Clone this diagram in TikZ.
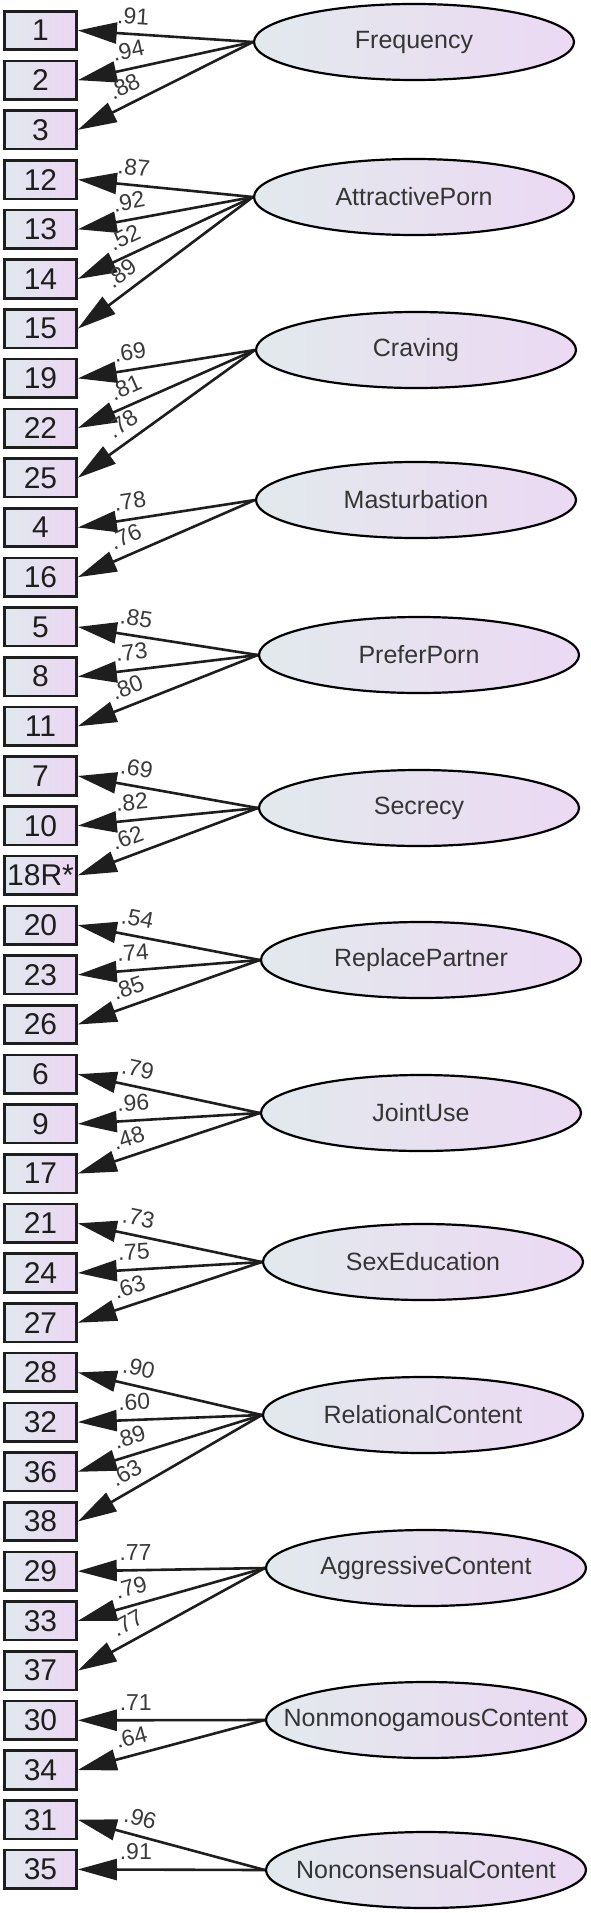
\documentclass[tikz,border=0pt]{standalone}
\usepackage{fontspec}
\setmainfont{Liberation Sans}
\usetikzlibrary{arrows.meta,shapes.geometric}
\definecolor{itemL}{HTML}{E1E8EE}
\definecolor{itemR}{HTML}{EBD7F3}
\definecolor{facL}{HTML}{E2E9ED}
\definecolor{facR}{HTML}{ECD9F3}
\definecolor{ink}{HTML}{1E1E1E}
\definecolor{lblgray}{HTML}{3A3A3A}

\begin{document}
\begin{tikzpicture}[
    x=1pt,y=-1pt,
    item/.style={draw=ink,line width=2.6pt,minimum width=72pt,minimum height=38.5pt,inner sep=0pt,
      left color=itemL,right color=itemR,text=ink,font=\fontsize{30}{30}\selectfont},
    factor/.style={ellipse,draw=black,line width=2.2pt,minimum width=320pt,minimum height=76pt,
      inner xsep=-36pt,inner ysep=0pt,
      left color=facL,right color=facR,text=ink!90,font=\fontsize{25}{25}\selectfont},
    load/.style={-{Triangle[length=39pt,width=21pt]},line width=2.6pt,ink},
    lbl/.style={pos=0.69,sloped,above=7pt,inner sep=1.5pt,text=lblgray,font=\fontsize{23}{23}\selectfont}
]
\useasboundingbox (0,0) rectangle (590,1913);

% observed items, one column on the left
\foreach \nm/\txt [count=\i from 0] in {1/1,2/2,3/3,12/12,13/13,14/14,15/15,19/19,22/22,25/25,
    4/4,16/16,5/5,8/8,11/11,7/7,10/10,18/18R*,20/20,23/23,26/26,6/6,9/9,17/17,
    21/21,24/24,27/27,28/28,32/32,36/36,38/38,29/29,33/33,37/37,30/30,34/34,31/31,35/35}
  \node[item] (q\nm) at (40.5,{30.5+49.7*\i}) {\txt};

% latent factors on the right
\node[factor] (Freq)  at (414,42)   {Frequency};
\node[factor] (Attr)  at (414,197)  {AttractivePorn};
\node[factor] (Crav)  at (416,350)  {Craving};
\node[factor] (Mast)  at (416,500)  {Masturbation};
\node[factor] (Pref)  at (419,655)  {PreferPorn};
\node[factor] (Secr)  at (419,808)  {Secrecy};
\node[factor] (Repl)  at (421,960)  {ReplacePartner};
\node[factor] (Joint) at (421,1113) {JointUse};
\node[factor] (SexEd) at (423,1262) {SexEducation};
\node[factor] (Rel)   at (423,1415) {RelationalContent};
\node[factor] (Aggr)  at (426,1568) {AggressiveContent};
\node[factor] (Nonmo) at (426,1720) {NonmonogamousContent};
\node[factor] (Nonco) at (426,1870) {NonconsensualContent};

% loadings
\draw[load] (Freq.west) -- node[lbl] {.91} (q1.east);
\draw[load] (Freq.west) -- node[lbl] {.94} (q2.east);
\draw[load] (Freq.west) -- node[lbl] {.88} (q3.east);

\draw[load] (Attr.west) -- node[lbl] {.87} (q12.east);
\draw[load] (Attr.west) -- node[lbl] {.92} (q13.east);
\draw[load] (Attr.west) -- node[lbl] {.52} (q14.east);
\draw[load] (Attr.west) -- node[lbl] {.89} (q15.east);

\draw[load] (Crav.west) -- node[lbl] {.69} (q19.east);
\draw[load] (Crav.west) -- node[lbl] {.81} (q22.east);
\draw[load] (Crav.west) -- node[lbl] {.78} (q25.east);

\draw[load] (Mast.west) -- node[lbl] {.78} (q4.east);
\draw[load] (Mast.west) -- node[lbl] {.76} (q16.east);

\draw[load] (Pref.west) -- node[lbl] {.85} (q5.east);
\draw[load] (Pref.west) -- node[lbl] {.73} (q8.east);
\draw[load] (Pref.west) -- node[lbl] {.80} (q11.east);

\draw[load] (Secr.west) -- node[lbl] {.69} (q7.east);
\draw[load] (Secr.west) -- node[lbl] {.82} (q10.east);
\draw[load] (Secr.west) -- node[lbl] {.62} (q18.east);

\draw[load] (Repl.west) -- node[lbl] {.54} (q20.east);
\draw[load] (Repl.west) -- node[lbl] {.74} (q23.east);
\draw[load] (Repl.west) -- node[lbl] {.85} (q26.east);

\draw[load] (Joint.west) -- node[lbl] {.79} (q6.east);
\draw[load] (Joint.west) -- node[lbl] {.96} (q9.east);
\draw[load] (Joint.west) -- node[lbl] {.48} (q17.east);

\draw[load] (SexEd.west) -- node[lbl] {.73} (q21.east);
\draw[load] (SexEd.west) -- node[lbl] {.75} (q24.east);
\draw[load] (SexEd.west) -- node[lbl] {.63} (q27.east);

\draw[load] (Rel.west) -- node[lbl] {.90} (q28.east);
\draw[load] (Rel.west) -- node[lbl] {.60} (q32.east);
\draw[load] (Rel.west) -- node[lbl] {.89} (q36.east);
\draw[load] (Rel.west) -- node[lbl] {.63} (q38.east);

\draw[load] (Aggr.west) -- node[lbl] {.77} (q29.east);
\draw[load] (Aggr.west) -- node[lbl] {.79} (q33.east);
\draw[load] (Aggr.west) -- node[lbl] {.77} (q37.east);

\draw[load] (Nonmo.west) -- node[lbl] {.71} (q30.east);
\draw[load] (Nonmo.west) -- node[lbl] {.64} (q34.east);

\draw[load] (Nonco.west) -- node[lbl] {.96} (q31.east);
\draw[load] (Nonco.west) -- node[lbl] {.91} (q35.east);
\end{tikzpicture}
\end{document}
